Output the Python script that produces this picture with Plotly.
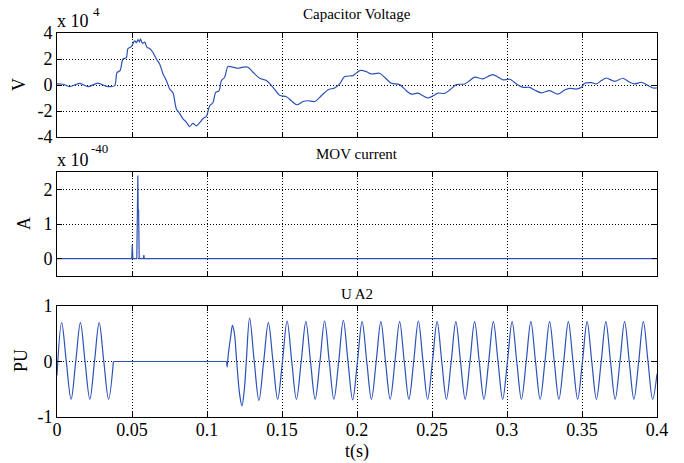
import plotly.graph_objects as go

# ---------------- data ----------------
cap_t = [0.0000, 0.0040, 0.0084, 0.0151, 0.0207, 0.0273, 0.0329, 0.0384, 0.0400, 0.0420,
         0.0440, 0.0462, 0.0473, 0.0495, 0.0518, 0.0530, 0.0540, 0.0550, 0.0556, 0.0570,
         0.0585, 0.0600, 0.0618, 0.0640, 0.0662, 0.0685, 0.0707, 0.0729, 0.0751, 0.0773,
         0.0796, 0.0818, 0.0840, 0.0862, 0.0884, 0.0906, 0.0929, 0.0951, 0.0973, 0.0996,
         0.1018, 0.1040, 0.1058, 0.1080, 0.1096, 0.1118, 0.1140, 0.1173, 0.1207, 0.1240,
         0.1273, 0.1307, 0.1351, 0.1396, 0.1440, 0.1484, 0.1529, 0.1562, 0.1600, 0.1640,
         0.1673, 0.1718, 0.1762, 0.1807, 0.1851, 0.1884, 0.1918, 0.1973, 0.2018, 0.2062,
         0.2095, 0.2151, 0.2184, 0.2229, 0.2284, 0.2329, 0.2362, 0.2407, 0.2440, 0.2473,
         0.2507, 0.2540, 0.2584, 0.2618, 0.2662, 0.2718, 0.2751, 0.2784, 0.2840, 0.2884,
         0.2907, 0.2940, 0.2973, 0.3018, 0.3073, 0.3107, 0.3151, 0.3184, 0.3229, 0.3284,
         0.3340, 0.3384, 0.3418, 0.3462, 0.3496, 0.3518, 0.3562, 0.3596, 0.3629, 0.3662,
         0.3718, 0.3773, 0.3818, 0.3851, 0.3896, 0.3929, 0.3973, 0.4000]
cap_v = [0.08, 0.06, -0.13, 0.13, -0.13, 0.15, -0.10, -0.05, 0.95, 1.10,
         2.00, 2.10, 2.80, 2.95, 3.40, 3.25, 3.50, 3.30, 3.55, 3.20,
         3.30, 2.90, 2.80, 2.50, 2.00, 1.60, 0.85, 0.35, -0.30, -0.60,
         -1.85, -2.20, -2.60, -2.85, -3.20, -2.95, -3.15, -2.90, -2.60, -2.40,
         -1.60, -1.35, -0.57, -0.45, 0.34, 0.60, 1.42, 1.37, 1.29, 1.37,
         1.37, 0.98, 0.52, 0.34, -0.18, -0.78, -0.91, -1.21, -1.52, -1.27,
         -1.21, -1.27, -0.83, -0.36, -0.23, 0.08, 0.65, 0.72, 1.11, 1.03,
         0.85, 0.90, 0.59, 0.13, 0.03, -0.44, -0.70, -0.62, -0.83, -1.00,
         -0.83, -0.62, -0.65, -0.39, 0.03, 0.08, 0.34, 0.60, 0.47, 0.72,
         0.80, 0.60, 0.39, 0.44, 0.00, -0.18, -0.18, -0.39, -0.60, -0.44,
         -0.70, -0.39, -0.26, -0.31, -0.18, 0.13, 0.18, 0.08, 0.34, 0.54,
         0.28, 0.52, 0.21, 0.08, 0.21, 0.03, -0.23, -0.23]

mov_t = [0.0000, 0.0498, 0.0502, 0.0506, 0.0532, 0.0536, 0.0539, 0.0541, 0.0544, 0.0548,
         0.0576, 0.0579, 0.0582, 0.4000]
mov_i = [0.0, 0.0, 0.40, 0.0, 0.0, 1.70, 2.40, 1.40, 1.40, 0.0,
         0.0, 0.10, 0.0, 0.0]

ua2_t1 = [0.0000, 0.0031, 0.0062, 0.0094, 0.0125, 0.0156, 0.0187, 0.0219, 0.0250, 0.0281,
          0.0312, 0.0344, 0.0376]
ua2_v1 = [-0.25, 0.70, 0.0, -0.68, 0.0, 0.70, 0.0, -0.68, 0.0, 0.70,
          0.0, -0.68, 0.0]

ua2_t_flat = [0.0376, 0.1131]
ua2_v_flat = [0.0, 0.0]

ua2_t2 = [0.1131, 0.1134, 0.1143, 0.1158, 0.1170, 0.1183, 0.1198, 0.1218, 0.1233, 0.1249, 0.1262,
          0.1284, 0.1315, 0.1346, 0.1378,
          0.1409, 0.1440, 0.1471, 0.1503,
          0.1534, 0.1565, 0.1596, 0.1628,
          0.1659, 0.1690, 0.1721, 0.1753,
          0.1784, 0.1815, 0.1846, 0.1878,
          0.1909, 0.1940, 0.1971, 0.2003,
          0.2034, 0.2065, 0.2096, 0.2128,
          0.2159, 0.2190, 0.2221, 0.2253,
          0.2284, 0.2315, 0.2346, 0.2378,
          0.2409, 0.2440, 0.2471, 0.2503,
          0.2534, 0.2565, 0.2596, 0.2628,
          0.2659, 0.2690, 0.2721, 0.2753,
          0.2784, 0.2815, 0.2846, 0.2878,
          0.2909, 0.2940, 0.2971, 0.3003,
          0.3034, 0.3065, 0.3096, 0.3128,
          0.3159, 0.3190, 0.3221, 0.3253,
          0.3284, 0.3315, 0.3346, 0.3378,
          0.3409, 0.3440, 0.3471, 0.3503,
          0.3534, 0.3565, 0.3596, 0.3628,
          0.3659, 0.3690, 0.3721, 0.3753,
          0.3784, 0.3815, 0.3846, 0.3878,
          0.3909, 0.3940, 0.3971, 0.4000]
ua2_v2 = [0.0, -0.10, 0.15, 0.45, 0.65, 0.50, 0.0, -0.60, -0.80, -0.50, 0.0,
          0.78, 0.0, -0.70, 0.0,
          0.70, 0.0, -0.68, 0.0,
          0.73, 0.0, -0.68, 0.0,
          0.72, 0.0, -0.68, 0.0,
          0.73, 0.0, -0.68, 0.0,
          0.74, 0.0, -0.69, 0.0,
          0.72, 0.0, -0.68, 0.0,
          0.72, 0.0, -0.68, 0.0,
          0.72, 0.0, -0.68, 0.0,
          0.73, 0.0, -0.68, 0.0,
          0.72, 0.0, -0.68, 0.0,
          0.72, 0.0, -0.68, 0.0,
          0.72, 0.0, -0.68, 0.0,
          0.72, 0.0, -0.68, 0.0,
          0.72, 0.0, -0.68, 0.0,
          0.72, 0.0, -0.68, 0.0,
          0.72, 0.0, -0.68, 0.0,
          0.72, 0.0, -0.68, 0.0,
          0.72, 0.0, -0.68, 0.0,
          0.72, 0.0, -0.68, 0.0,
          0.72, 0.0, -0.68, 0.0,
          0.72, 0.0, -0.68, -0.22]

x_tickvals = [0, 0.05, 0.1, 0.15, 0.2, 0.25, 0.3, 0.35, 0.4]
x_ticktext = ["0", "0.05", "0.1", "0.15", "0.2", "0.25", "0.3", "0.35", "0.4"]
cap_tickvals = [-4, -2, 0, 2, 4]
cap_ticktext = ["-4", "-2", "0", "2", "4"]
mov_tickvals = [0, 1, 2]
mov_ticktext = ["0", "1", "2"]
ua2_tickvals = [-1, 0, 1]
ua2_ticktext = ["-1", "0", "1"]

# ---------------- style ----------------
W, H = 684, 463
BLUE = "#2d52b6"
FONT = "Liberation Serif, Times New Roman, serif"


def px_x(p):
    return p / W


def px_y(p):
    return 1 - p / H


fig = go.Figure()
line = dict(color=BLUE, width=1.2)
fig.add_trace(go.Scatter(x=cap_t, y=cap_v, mode="lines", line=dict(shape="spline", smoothing=0.8, **line),
                         xaxis="x", yaxis="y", showlegend=False))
fig.add_trace(go.Scatter(x=mov_t, y=mov_i, mode="lines", line=line,
                         xaxis="x2", yaxis="y2", showlegend=False))
fig.add_trace(go.Scatter(x=ua2_t1, y=ua2_v1, mode="lines", line=dict(shape="spline", smoothing=1, **line),
                         xaxis="x3", yaxis="y3", showlegend=False))
fig.add_trace(go.Scatter(x=ua2_t_flat, y=ua2_v_flat, mode="lines", line=line,
                         xaxis="x3", yaxis="y3", showlegend=False))
fig.add_trace(go.Scatter(x=ua2_t2, y=ua2_v2, mode="lines", line=dict(shape="spline", smoothing=1, **line),
                         xaxis="x3", yaxis="y3", showlegend=False))

tickfont = dict(family=FONT, size=18, color="black")
common = dict(showline=True, linecolor="black", linewidth=1, mirror="ticks",
              ticks="inside", ticklen=5, tickcolor="black", tickwidth=1,
              showgrid=True, gridcolor="black", griddash="1px,2px", gridwidth=1,
              zeroline=False, tickfont=tickfont, automargin=False)

xdom = [px_x(57), px_x(657)]
panels = [(33, 137), (172, 276), (306, 417)]

layout = dict(template="none", width=W, height=H, autosize=False,
              margin=dict(l=0, r=0, t=0, b=0, pad=0, autoexpand=False),
              paper_bgcolor="white", plot_bgcolor="white",
              font=dict(family=FONT, color="black"), showlegend=False)

ranges = [([-4, 4], cap_tickvals, cap_ticktext),
          ([-0.5, 2.5], mov_tickvals, mov_ticktext),
          ([-1, 1], ua2_tickvals, ua2_ticktext)]
for i, ((top, bot), (yr, tv, tt)) in enumerate(zip(panels, ranges)):
    suffix = "" if i == 0 else str(i + 1)
    xa = dict(domain=xdom, range=[0, 0.4], anchor="y" + suffix,
              tickvals=x_tickvals, ticktext=x_ticktext,
              showticklabels=(i == 2), **common)
    if i == 2:
        xa["ticklabelstandoff"] = -4
    layout["xaxis" + suffix] = xa
    layout["yaxis" + suffix] = dict(domain=[px_y(bot), px_y(top)], range=yr, anchor="x" + suffix,
                                    tickvals=tv, ticktext=tt, **common)

fig.update_layout(**layout)

ann = []


def add_text(text, x, y, size, xanchor="center", angle=0):
    ann.append(dict(text=text, x=px_x(x), y=px_y(y), xref="paper", yref="paper",
                    xanchor=xanchor, yanchor="middle", showarrow=False, textangle=angle,
                    font=dict(family=FONT, size=size, color="black")))


add_text("Capacitor Voltage", 357, 14, 15)
add_text("MOV current", 357, 154, 15)
add_text("U A2", 357, 294, 15)
add_text("x 10", 55, 21, 18, xanchor="left")
add_text("4", 91, 11, 13, xanchor="left")
add_text("x 10", 55, 160, 18, xanchor="left")
add_text("-40", 89, 148, 13, xanchor="left")
add_text("V", 19, 85, 18, angle=-90)
add_text("A", 24, 224, 18, angle=-90)
add_text("PU", 21, 361, 18, angle=-90)
add_text("t(s)", 357, 451, 18)
fig.update_layout(annotations=ann)

fig.write_html("out.html")
